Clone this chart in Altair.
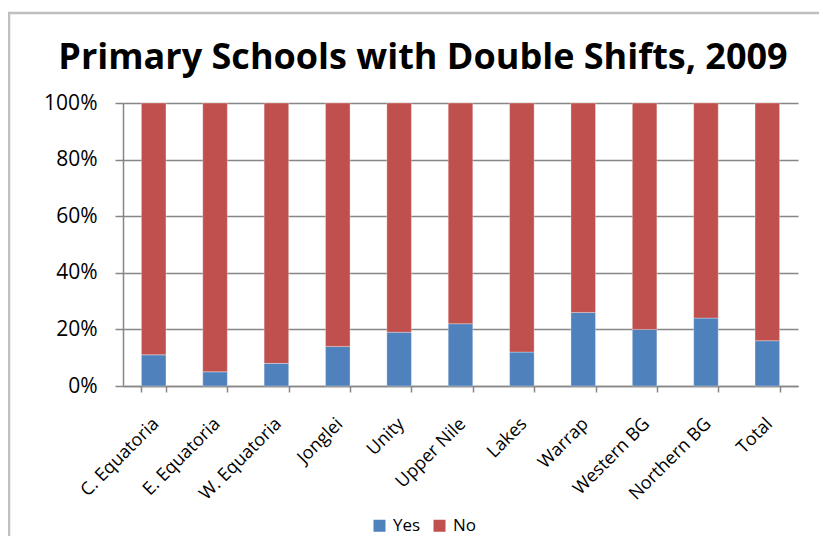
import altair as alt
import pandas as pd

regions = ["C. Equatoria", "E. Equatoria", "W. Equatoria", "Jonglei", "Unity",
           "Upper Nile", "Lakes", "Warrap", "Western BG", "Northern BG", "Total"]
yes_pct = [11, 5, 8, 14, 19, 22, 12, 26, 20, 24, 16]
no_pct = [100 - v for v in yes_pct]
series = ["Yes", "No"]
colors = ["#4F81BD", "#C0504D"]
title_text = "Primary Schools with Double Shifts, 2009"

rows = []
for r, y, n in zip(regions, yes_pct, no_pct):
    rows.append({"region": r, "series": "Yes", "value": y / 100, "ord": 0})
    rows.append({"region": r, "series": "No", "value": n / 100, "ord": 1})
df = pd.DataFrame(rows)

FONT = "Open Sans"
GRID = "#868686"

bars = alt.Chart(df).mark_bar(stroke="white", strokeWidth=0.5, strokeOpacity=0.6).encode(
    x=alt.X("region:N", sort=regions, title=None,
            scale=alt.Scale(paddingInner=0.6, paddingOuter=0.3),
            axis=alt.Axis(labelAngle=-45, labelAlign="right", labelBaseline="middle",
                          labelFontSize=18, labelFont=FONT, labelColor="black",
                          labelPadding=29, labelOffset=2, tickBand="extent",
                          tickSize=6, tickColor=GRID, tickWidth=1.5,
                          domainColor=GRID, domainWidth=1.5, grid=False)),
    y=alt.Y("value:Q", stack="zero", title=None,
            scale=alt.Scale(domain=[0, 1]),
            axis=alt.Axis(format=".0%", values=[0, 0.2, 0.4, 0.6, 0.8, 1.0],
                          labelFontSize=21, labelFont=FONT, labelColor="black",
                          labelPadding=18, tickSize=8, tickColor=GRID, tickWidth=1.5,
                          domainColor=GRID, domainWidth=1.5,
                          grid=True, gridColor=GRID, gridWidth=1.5)),
    color=alt.Color("series:N", sort=series,
                    scale=alt.Scale(domain=series, range=colors),
                    legend=alt.Legend(title=None, orient="none", direction="horizontal",
                                      legendX=248, legendY=414, symbolType="square",
                                      symbolSize=144, symbolStrokeWidth=0,
                                      labelFontSize=17, labelFont=FONT, labelColor="black",
                                      columnPadding=10, labelOffset=5, padding=0)),
    order=alt.Order("ord:Q"),
)

single = pd.DataFrame({"k": [0]})
border = alt.Chart(single).mark_rect(fill=None, stroke="#BFBFBF", strokeWidth=2.5, clip=False).encode(
    x=alt.value(-114), y=alt.value(-90), x2=alt.value(720), y2=alt.value(460)
)

title = alt.Chart(single).mark_text(font=FONT, fontSize=36, fontWeight="bold", color="black",
                                    align="center", baseline="alphabetic").encode(
    x=alt.value(300), y=alt.value(-34), text=alt.value(title_text)
)

chart = alt.layer(border, bars, title).properties(
    width=675, height=283,
    autosize=alt.AutoSizeParams(type="none"),
    padding={"left": 115, "top": 95, "right": 21, "bottom": 150},
).configure_view(stroke=None)

chart.save("out.html", embed_options={"renderer": "svg", "actions": False})
